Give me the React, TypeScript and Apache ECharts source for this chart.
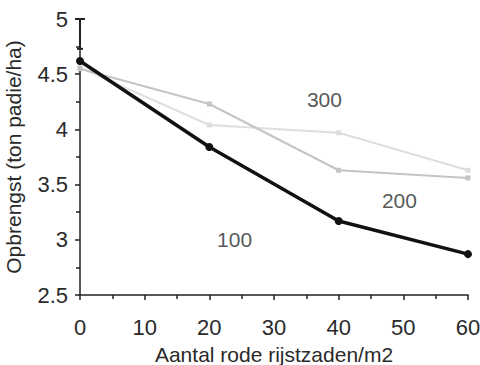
import React, { useEffect, useRef } from "react";
import * as echarts from "echarts";

const xValues = [0, 20, 40, 60];
const series100 = [4.62, 3.84, 3.17, 2.87];
const series200 = [4.55, 4.23, 3.63, 3.56];
const series300 = [4.56, 4.04, 3.97, 3.63];
const xTicks = [0, 10, 20, 30, 40, 50, 60];
const yTicks = [2.5, 3, 3.5, 4, 4.5, 5];
const errorBar = [[0, 4.73, 5.0]];
const labels = [
  { name: "300", x: 37.8, y: 4.27 },
  { name: "200", x: 49.4, y: 3.36 },
  { name: "100", x: 23.9, y: 3.0 },
];

const font = "Liberation Sans, Arial, sans-serif";
const textColor = "#2a2a2a";

export default function App() {
  const ref = useRef<HTMLDivElement>(null);
  useEffect(() => {
    if (!ref.current) return;
    const chart = echarts.init(ref.current, undefined, { renderer: "svg" });
    const pair = (vals: number[]) => xValues.map((x, i) => [x, vals[i]]);
    chart.setOption({
      animation: false,
      backgroundColor: "#fff",
      grid: { left: 80, right: 12, top: 19, bottom: 70, containLabel: false, outerBoundsMode: "none" },
      xAxis: {
        type: "value",
        min: xTicks[0],
        max: xTicks[xTicks.length - 1],
        interval: 10,
        name: "Aantal rode rijstzaden/m2",
        nameLocation: "middle",
        nameGap: 49,
        nameTextStyle: { fontFamily: font, fontSize: 21, color: textColor },
        axisLine: { lineStyle: { color: "#222", width: 1.5 } },
        axisTick: { length: 5, lineStyle: { color: "#222", width: 1.5 } },
        minorTick: { show: true, splitNumber: 2, length: 4, lineStyle: { color: "#222", width: 1.5 } },
        axisLabel: { fontFamily: font, fontSize: 22, color: textColor, margin: 21 },
        splitLine: { show: false },
      },
      yAxis: {
        type: "value",
        min: yTicks[0],
        max: yTicks[yTicks.length - 1],
        interval: 0.5,
        name: "Opbrengst (ton padie/ha)",
        nameLocation: "middle",
        nameGap: 56,
        nameTextStyle: { fontFamily: font, fontSize: 21, color: textColor },
        axisLine: { show: true, lineStyle: { color: "#222", width: 1.5 } },
        axisTick: { show: true, length: 5, lineStyle: { color: "#222", width: 1.5 } },
        minorTick: { show: true, splitNumber: 2, length: 4, lineStyle: { color: "#222", width: 1.5 } },
        axisLabel: { fontFamily: font, fontSize: 22, color: textColor, margin: 12 },
        splitLine: { show: false },
      },
      series: [
        {
          name: "300",
          type: "line",
          data: pair(series300),
          symbol: "rect",
          symbolSize: 5,
          lineStyle: { color: "#dedede", width: 2 },
          itemStyle: { color: "#dedede" },
          z: 2,
        },
        {
          name: "200",
          type: "line",
          data: pair(series200),
          symbol: "rect",
          symbolSize: 5,
          lineStyle: { color: "#c4c4c4", width: 2 },
          itemStyle: { color: "#c4c4c4" },
          z: 3,
        },
        {
          name: "100",
          type: "line",
          data: pair(series100),
          symbol: "circle",
          symbolSize: 8,
          lineStyle: { color: "#111", width: 3.5 },
          itemStyle: { color: "#111" },
          z: 5,
        },
        {
          name: "lsd",
          type: "custom",
          data: errorBar,
          renderItem: (params: any, api: any) => {
            const top = api.coord([api.value(0), api.value(2)]);
            const bot = api.coord([api.value(0), api.value(1)]);
            return {
              type: "group",
              children: [
                { type: "line", shape: { x1: top[0], y1: top[1], x2: bot[0], y2: bot[1] }, style: { stroke: "#222", lineWidth: 2 } },
                { type: "line", shape: { x1: top[0] - 5, y1: top[1], x2: top[0] + 5, y2: top[1] }, style: { stroke: "#222", lineWidth: 2 } },
                { type: "line", shape: { x1: bot[0] - 3, y1: bot[1], x2: bot[0] + 3, y2: bot[1] }, style: { stroke: "#222", lineWidth: 2 } },
              ],
            };
          },
          z: 6,
        },
        {
          name: "labels",
          type: "scatter",
          data: labels.map((l) => ({ name: l.name, value: [l.x, l.y] })),
          symbolSize: 0,
          label: {
            show: true,
            position: "inside",
            formatter: (p: any) => p.name,
            fontFamily: font,
            fontSize: 21,
            color: textColor,
          },
          z: 7,
        },
      ],
    });
    return () => chart.dispose();
  }, []);
  return <div ref={ref} style={{ width: 480, height: 365, position: "absolute", left: 0, top: 0 }} />;
}
